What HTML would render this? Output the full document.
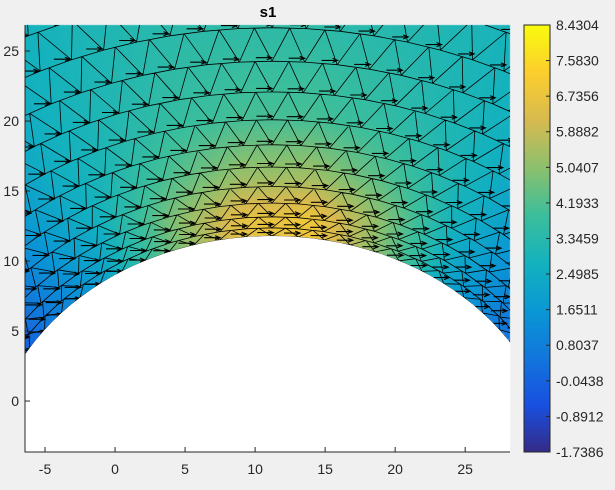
<!DOCTYPE html>
<html><head><meta charset="utf-8"><style>
html,body{margin:0;background:#f0f0f0;width:615px;height:490px;overflow:hidden;font-family:"Liberation Sans",sans-serif}
#wrap{position:relative;width:615px;height:490px;overflow:hidden}
canvas{position:absolute;left:0;top:0;display:block}
svg{position:absolute;left:0;top:0;display:block;overflow:hidden}
</style></head><body><div id="wrap">
<canvas id="cv" width="615" height="490"></canvas>
<svg id="sv" width="615" height="490"></svg>
</div>
<script>
// data
const xTicks=[-5,0,5,10,15,20,25];
const yTicks=[0,5,10,15,20,25];
const cbTicks=[-1.7386,-0.8912,-0.0438,0.8037,1.6511,2.4985,3.3459,4.1933,5.0407,5.8882,6.7356,7.5830,8.4304];
const cMin=-1.7386, cMax=8.4304;
const gridX=[-6.4,-1,4,9,14,19,24,28.2];
const gridY=[27,20,16,13,10,7,4];
const gridV=[
 [2.8,3.1,3.4,3.5,3.5,3.3,3.1,2.9],
 [2.6,3.1,3.7,4.1,4.1,3.7,3.1,2.7],
 [2.3,3.0,4.2,5.3,5.4,4.3,3.1,2.4],
 [1.8,2.8,4.8,6.6,6.9,5.0,2.9,2.0],
 [1.2,2.3,4.6,6.5,6.8,4.8,2.4,1.5],
 [0.6,1.6,3.5,5,5,3.4,1.7,0.9],
 [0.0,1.0,2.5,4,4,2.5,1.1,0.3]];
const parula=[[53,42,135],[25,80,225],[18,118,220],[10,152,212],[20,178,190],[60,190,155],[140,192,110],[215,186,80],[252,206,46],[249,251,14]];
const xmin=-6.43,xmax=28.2,ymin=-3.64,ymax=26.86;
const L=25,R=510,T=25,B=452;
const sx=v=>L+(v-xmin)/(xmax-xmin)*(R-L);
const sy=v=>B-(v-ymin)/(ymax-ymin)*(B-T);
function col(v){let t=(v-cMin)/(cMax-cMin);t=Math.max(0,Math.min(1,t))*(parula.length-1);
 const i=Math.min(parula.length-2,Math.floor(t)),f=t-i;const a=parula[i],b=parula[i+1];
 return [0,1,2].map(k=>Math.round(a[k]+(b[k]-a[k])*f));}
function idx(arr,v,desc){for(let i=0;i<arr.length-1;i++){const a=arr[i],b=arr[i+1];
 if(desc?(v<=a&&v>=b):(v>=a&&v<=b))return [i,(v-a)/(b-a)];}
 return desc?(v>arr[0]?[0,0]:[arr.length-2,1]):(v<arr[0]?[0,0]:[arr.length-2,1]);}
function val(x,y){const [i,fx]=idx(gridX,x,false),[j,fy]=idx(gridY,y,true);
 const a=gridV[j][i],b=gridV[j][i+1],c=gridV[j+1][i],d=gridV[j+1][i+1];
 return (a*(1-fx)+b*fx)*(1-fy)+(c*(1-fx)+d*fx)*fy;}
const hcx=272,hcy=470,hrx=284,hry=234;
const cv=document.getElementById('cv').getContext('2d');
const img=cv.createImageData(R-L,B-T);
for(let py=T;py<B;py++)for(let px=L;px<R;px++){
 const o=((py-T)*(R-L)+(px-L))*4;
 const ex=(px-hcx)/hrx,ey=(py-hcy)/hry;
 let c=[255,255,255];
 if(ex*ex+ey*ey>1){const x=xmin+(px-L)/(R-L)*(xmax-xmin),y=ymax-(py-T)/(B-T)*(ymax-ymin);c=col(val(x,y));}
 img.data[o]=c[0];img.data[o+1]=c[1];img.data[o+2]=c[2];img.data[o+3]=255;}
cv.putImageData(img,L,T);
const CL=524,CR=550;
for(let py=T;py<B;py++){const v=cMax-(py-T)/(B-T)*(cMax-cMin);const c=col(v);
 cv.fillStyle=`rgb(${c})`;cv.fillRect(CL,py,CR-CL,1);}
const NS='http://www.w3.org/2000/svg';const sv=document.getElementById('sv');
function el(t,a,p){const e=document.createElementNS(NS,t);for(const k in a)e.setAttribute(k,a[k]);(p||sv).appendChild(e);return e;}
const clipD=el('defs',{});const cp=el('clipPath',{id:'pc'},clipD);el('rect',{x:L,y:T,width:R-L,height:B-T},cp);
const mesh=el('g',{'clip-path':'url(#pc)',stroke:'#000','stroke-width':0.8,fill:'none'});


const rings=[];let s=1;for(let k=0;k<16;k++){rings.push(s);s+=0.035+0.012*k;}
const NA=44;
const P=(s,th)=>[hcx+hrx*s*Math.cos(th),hcy-hry*s*Math.sin(th)];
let d='';
for(let r=0;r<rings.length;r++){const n=NA+r*2;
 for(let a=0;a<=n;a++){const th=Math.PI*(a/n)*1.3-0.15*Math.PI;const p=P(rings[r],th);d+=(a?'L':'M')+p[0].toFixed(1)+' '+p[1].toFixed(1);}}
for(let r=0;r<rings.length-1;r++){const n=NA+r*2;
 for(let a=0;a<=n;a++){const th=Math.PI*(a/n)*1.3-0.15*Math.PI,th2=Math.PI*((a+0.5)/n)*1.3-0.15*Math.PI;
  const p=P(rings[r],th),q=P(rings[r+1],th2),q2=P(rings[r+1],th-(th2-th));
  d+=`M${p[0].toFixed(1)} ${p[1].toFixed(1)}L${q[0].toFixed(1)} ${q[1].toFixed(1)}M${p[0].toFixed(1)} ${p[1].toFixed(1)}L${q2[0].toFixed(1)} ${q2[1].toFixed(1)}`;}}
el('path',{d:d},mesh);
let ad='';
for(let r=0;r<rings.length;r++){const n=NA+r*2;
 for(let a=0;a<n;a++){const th=Math.PI*((a+0.25)/n)*1.3-0.15*Math.PI;const p=P(rings[r]+0.015,th);
  const x=p[0],y=p[1];ad+=`M${(x-8).toFixed(1)} ${y.toFixed(1)}L${(x+8).toFixed(1)} ${y.toFixed(1)}M${(x+3).toFixed(1)} ${(y-2).toFixed(1)}L${(x+8).toFixed(1)} ${y.toFixed(1)}L${(x+3).toFixed(1)} ${(y+2).toFixed(1)}`;}}
el('path',{d:ad,'stroke-width':1.1},mesh);
el('ellipse',{cx:hcx,cy:hcy,rx:hrx,ry:hry,fill:'#fff',stroke:'none'},mesh);
const ax=el('path',{d:`M${L} ${T}V${B}H${R}`,stroke:'#262626',fill:'none','stroke-width':1});


xTicks.forEach(v=>{const x=sx(v);el('path',{d:`M${x} ${B}v-5`,stroke:'#262626'});
 const t=el('text',{x:x,y:B+22,'text-anchor':'middle','font-size':14,fill:'#262626'});t.textContent=v;
 
 });
yTicks.forEach(v=>{const y=sy(v);el('path',{d:`M${L} ${y}h5`,stroke:'#262626'});
 const t=el('text',{x:L-6,y:y+5,'text-anchor':'end','font-size':14,fill:'#262626'});t.textContent=v;
 
 });
const cb=el('rect',{x:CL,y:T,width:CR-CL,height:B-T,fill:'none',stroke:'#262626'});


cbTicks.forEach(v=>{const y=T+(cMax-v)/(cMax-cMin)*(B-T);el('path',{d:`M${CR} ${y}h-4`,stroke:'#262626'});
 const t=el('text',{x:CR+6,y:y+5,'font-size':14,fill:'#262626'});t.textContent=v.toFixed(4);
 
 });
const ti=el('text',{x:268,y:17,'text-anchor':'middle','font-size':15,'font-weight':'bold',fill:'#000'});ti.textContent='s1';


</script></body></html>
